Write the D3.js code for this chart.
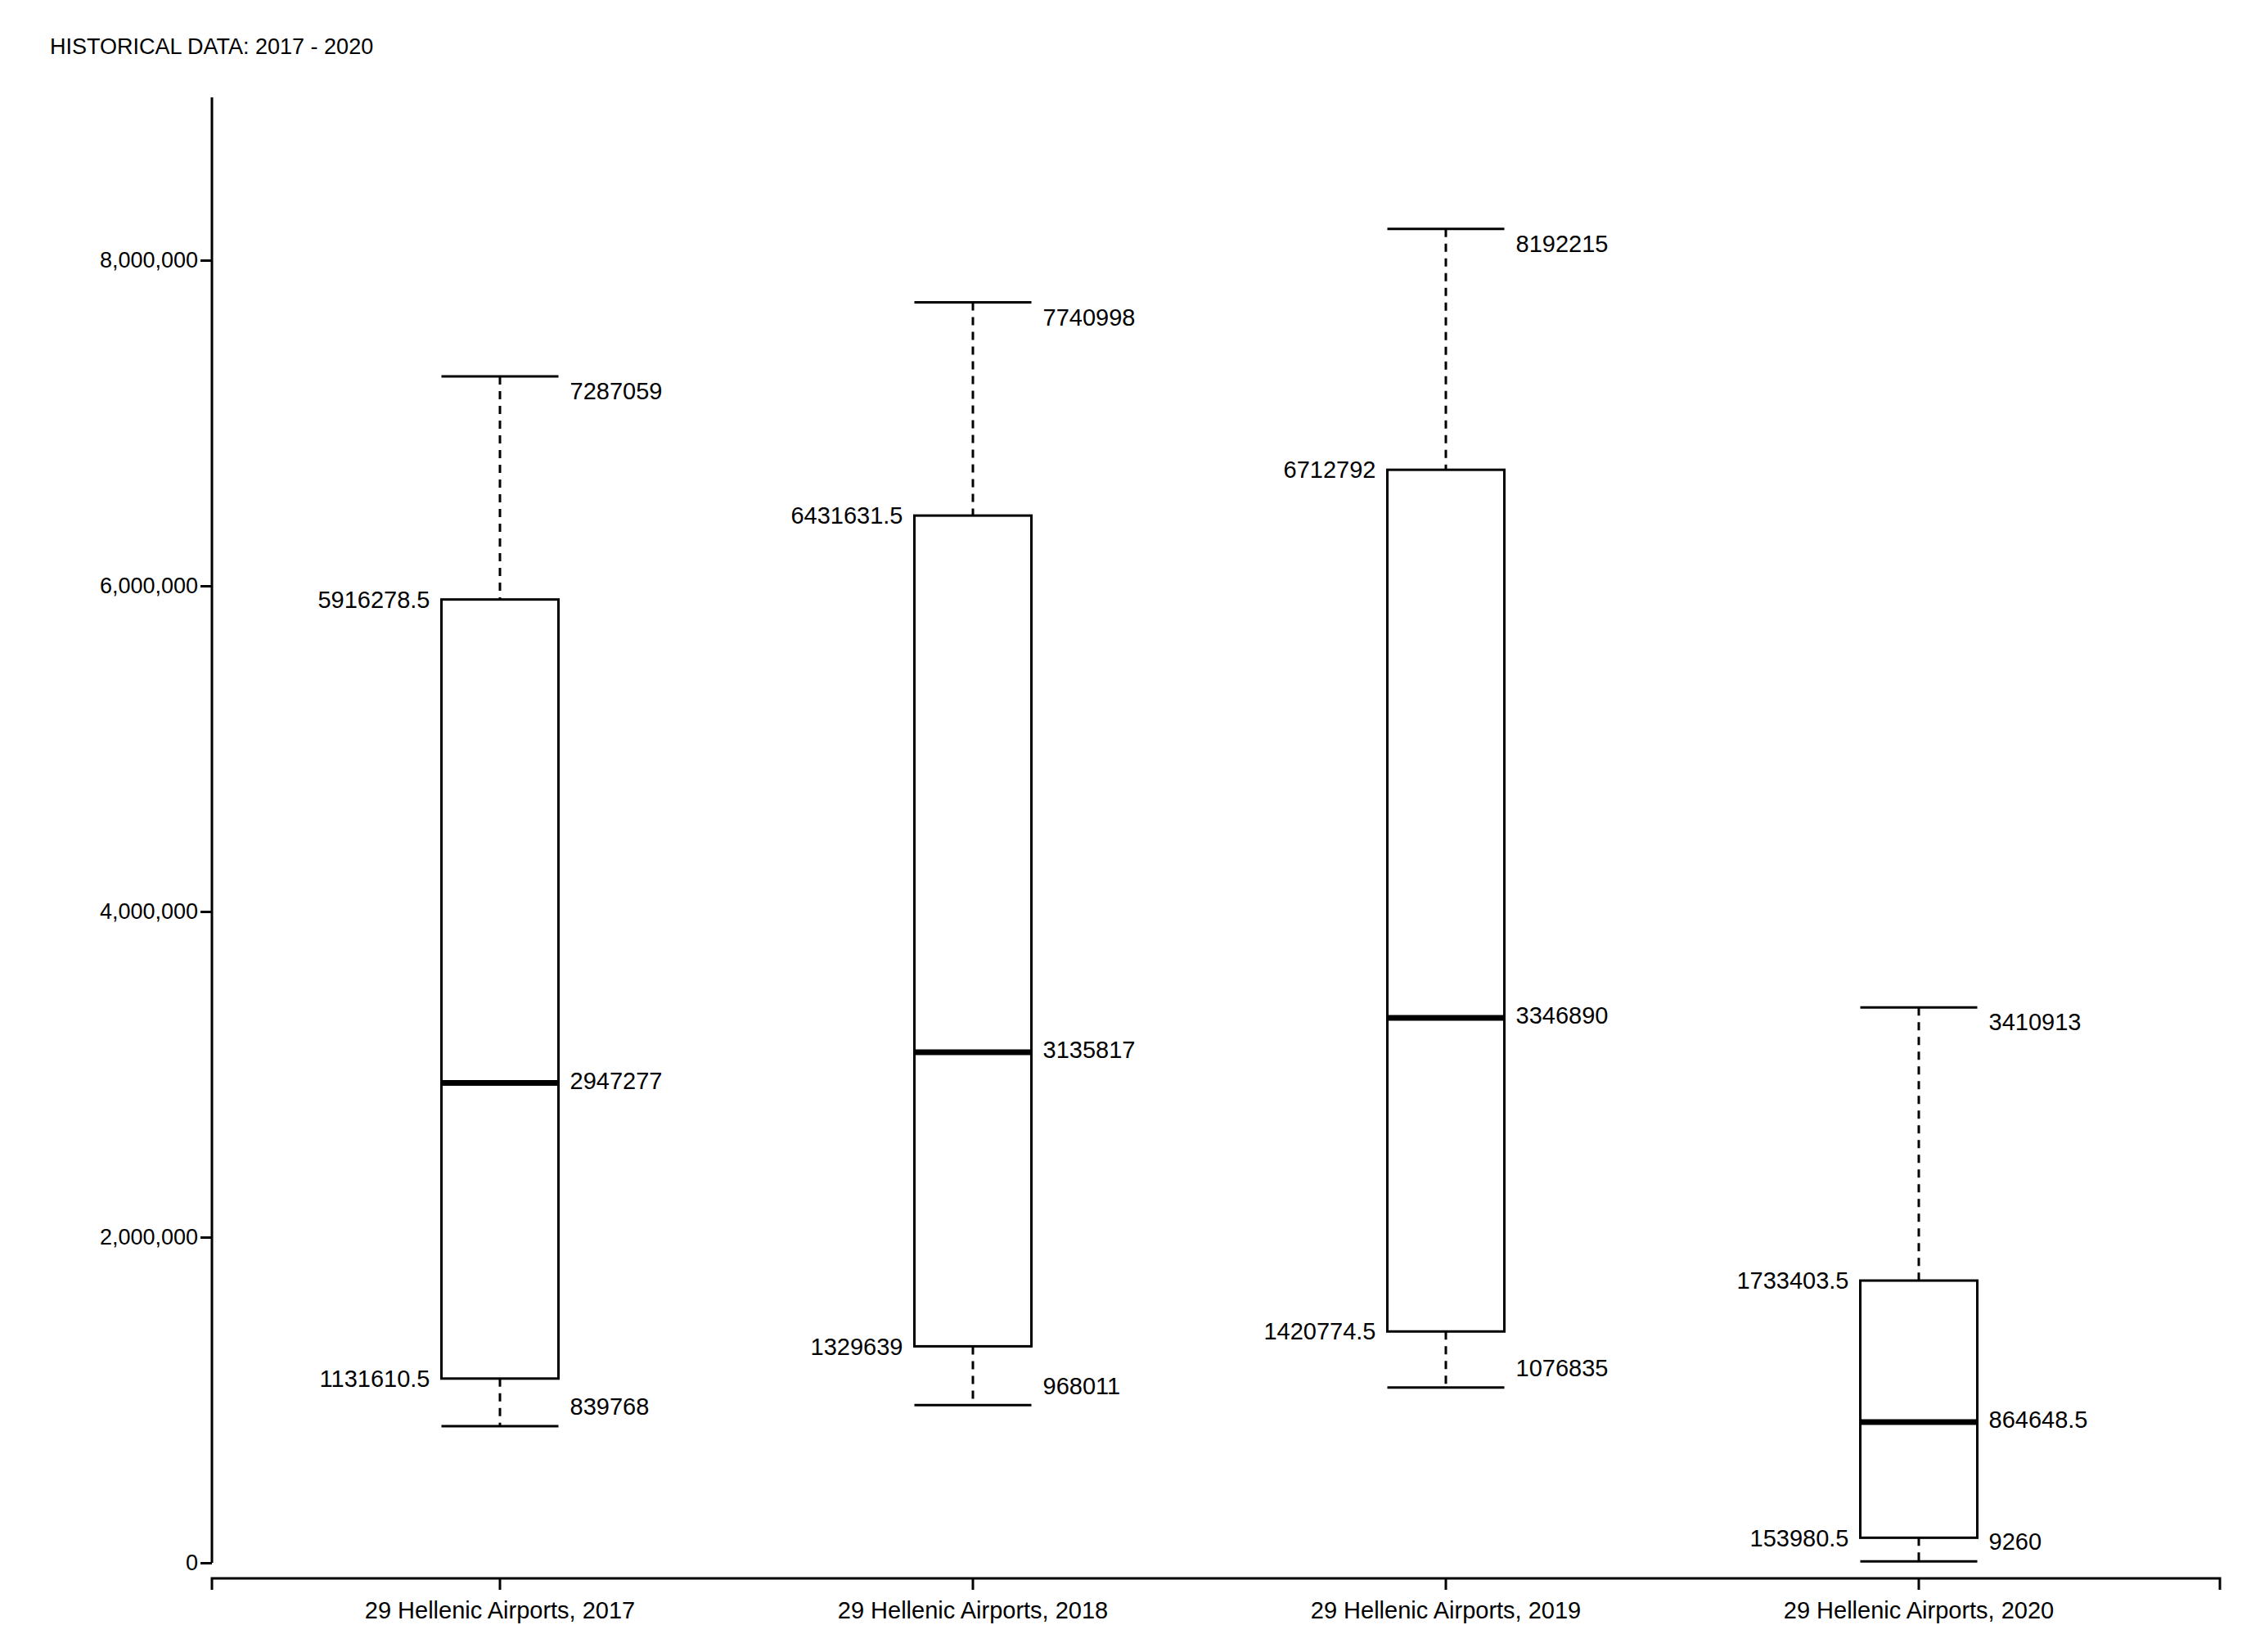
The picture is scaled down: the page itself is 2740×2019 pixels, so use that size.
<!DOCTYPE html>
<html><head><meta charset="utf-8">
<script src="https://cdn.jsdelivr.net/npm/d3@7"></script>
<style>body{margin:0;background:#fff}text{font-family:"Liberation Sans",Arial,sans-serif;fill:#000}</style>
</head><body><div id="container"></div>
<script>
var categories = ['29 Hellenic Airports, 2017', '29 Hellenic Airports, 2018', '29 Hellenic Airports, 2019', '29 Hellenic Airports, 2020']
var mins = [839768, 968011, 1076835, 9260]
var q1s = [1131610.5, 1329639, 1420774.5, 153980.5]
var medians = [2947277, 3135817, 3346890, 864648.5]
var q3s = [5916278.5, 6431631.5, 6712792, 1733403.5]
var maxs = [7287059, 7740998, 8192215, 3410913]
var yTicks = [0, 2000000, 4000000, 6000000, 8000000]

var W = 2740, H = 2019
var svg = d3.select('#container').append('svg').attr('width', W).attr('height', H)

var x = d3.scaleBand().domain(categories).range([322, 2634])
var y = d3.scaleLinear().domain([0, 9000000]).range([1910, 119])
var bw = 143

svg.append('text').attr('x', 61).attr('y', 66).attr('font-size', 27).text('HISTORICAL DATA: 2017 - 2020')

var yAxis = svg.append('g').attr('transform', 'translate(259,0)')
  .call(d3.axisLeft(y).tickValues(yTicks).tickSize(14).tickFormat(d3.format(',')))
yAxis.select('.domain').attr('d', 'M0,' + y(9000000) + 'V' + y(0)).attr('stroke-width', 3)
yAxis.selectAll('.tick line').attr('stroke-width', 3)
yAxis.selectAll('text').attr('font-size', 27).attr('font-family', '"Liberation Sans",Arial,sans-serif')

var xAxis = svg.append('g').attr('transform', 'translate(0,1929)')
  .call(d3.axisBottom(x).tickSize(14).tickSizeOuter(14))
xAxis.select('.domain').attr('d', 'M259,14V0H2713V14').attr('stroke-width', 3)
xAxis.selectAll('.tick line').attr('stroke-width', 3)
xAxis.selectAll('text').attr('font-size', 29).attr('dy', '1.1em').attr('font-family', '"Liberation Sans",Arial,sans-serif')

var data = categories.map(function (c, i) {
  return { c: c, min: mins[i], q1: q1s[i], med: medians[i], q3: q3s[i], max: maxs[i] }
})
var g = svg.selectAll('g.box').data(data).enter().append('g').attr('class', 'box')
function cx(d) { return x(d.c) + x.bandwidth() / 2 }

g.append('line').attr('x1', cx).attr('x2', cx).attr('y1', function (d) { return y(d.max) }).attr('y2', function (d) { return y(d.q3) })
  .attr('stroke', '#000').attr('stroke-width', 3).attr('stroke-dasharray', '10,8')
g.append('line').attr('x1', cx).attr('x2', cx).attr('y1', function (d) { return y(d.q1) }).attr('y2', function (d) { return y(d.min) })
  .attr('stroke', '#000').attr('stroke-width', 3).attr('stroke-dasharray', '10,8')
g.append('rect').attr('x', function (d) { return cx(d) - bw / 2 }).attr('width', bw)
  .attr('y', function (d) { return y(d.q3) }).attr('height', function (d) { return y(d.q1) - y(d.q3) })
  .attr('fill', 'none').attr('stroke', '#000').attr('stroke-width', 3)
g.append('line').attr('x1', function (d) { return cx(d) - bw / 2 }).attr('x2', function (d) { return cx(d) + bw / 2 })
  .attr('y1', function (d) { return y(d.med) }).attr('y2', function (d) { return y(d.med) }).attr('stroke', '#000').attr('stroke-width', 7)
;['max', 'min'].forEach(function (k) {
  g.append('line').attr('x1', function (d) { return cx(d) - bw / 2 }).attr('x2', function (d) { return cx(d) + bw / 2 })
    .attr('y1', function (d) { return y(d[k]) }).attr('y2', function (d) { return y(d[k]) }).attr('stroke', '#000').attr('stroke-width', 3)
})

var labels = [
  { k: 'max', side: 1, dy: 18 },
  { k: 'q3', side: -1, dy: 0 },
  { k: 'med', side: 1, dy: -3 },
  { k: 'q1', side: -1, dy: 0 },
  { k: 'min', side: 1, dy: -24 }
]
labels.forEach(function (l) {
  g.append('text').attr('font-size', 29)
    .attr('x', function (d) { return cx(d) + l.side * (bw / 2 + 14) })
    .attr('y', function (d) { return y(d[l.k]) + l.dy })
    .attr('dy', '0.35em').attr('text-anchor', l.side > 0 ? 'start' : 'end')
    .text(function (d) { return d3.format('')(d[l.k]) })
})
</script></body></html>
